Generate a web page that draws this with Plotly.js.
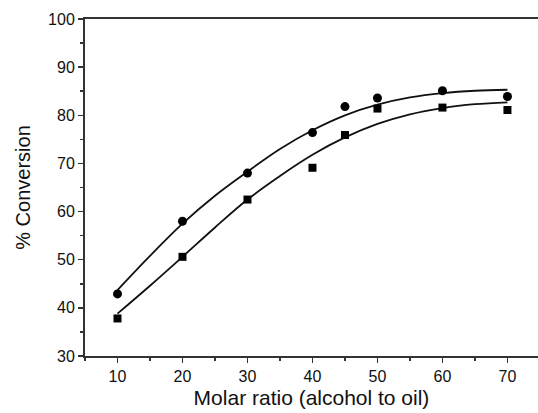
<!DOCTYPE html>
<html>
<head>
<meta charset="utf-8">
<script src="https://cdn.plot.ly/plotly-3.0.1.min.js"></script>
<style>html,body{margin:0;padding:0;background:#fff;}#chart{width:538px;height:413px;}</style>
</head>
<body>
<div id="chart"></div>
<script>
var molarRatio = [10, 20, 30, 40, 45, 50, 60, 70];
var circleConv = [42.9, 58.0, 68.0, 76.4, 81.8, 83.6, 85.1, 83.9];
var squareConv = [37.8, 50.6, 62.5, 69.1, 75.9, 81.4, 81.6, 81.1];
var fitX = [10, 15, 20, 25, 30, 35, 40, 45, 50, 55, 60, 65, 70];
var fitCircle = [43.7, 50.8, 57.5, 63.3, 68.3, 73.0, 76.9, 80.0, 82.2, 83.7, 84.6, 85.1, 85.3];
var fitSquare = [38.8, 44.6, 50.6, 56.7, 62.5, 67.4, 71.8, 75.4, 78.2, 80.2, 81.5, 82.3, 82.7];

var fontFam = 'Liberation Sans, Arial, sans-serif';
var traces = [
  {x: fitX, y: fitCircle, mode: 'lines', line: {color: '#111', width: 1.8, shape: 'spline'}, hoverinfo: 'skip'},
  {x: fitX, y: fitSquare, mode: 'lines', line: {color: '#111', width: 1.8, shape: 'spline'}, hoverinfo: 'skip'},
  {x: molarRatio, y: circleConv, mode: 'markers', marker: {symbol: 'circle', size: 9, color: '#000'}},
  {x: molarRatio, y: squareConv, mode: 'markers', marker: {symbol: 'square', size: 8, color: '#000'}}
];
var layout = {
  width: 538, height: 413,
  margin: {l: 85, r: 0, t: 19, b: 57},
  showlegend: false,
  paper_bgcolor: '#fff', plot_bgcolor: '#fff',
  font: {family: fontFam, color: '#111', size: 16},
  xaxis: {
    range: [5, 74.7], tickvals: [10, 20, 30, 40, 50, 60, 70],
    showgrid: false, zeroline: false, showline: true, linecolor: '#333', linewidth: 2,
    mirror: true, ticks: 'outside', ticklen: 5, tickwidth: 1.5, tickcolor: '#333',
    minor: {tickvals: [5, 15, 25, 35, 45, 55, 65], ticks: 'outside', ticklen: 3, tickcolor: '#333', tickwidth: 1.5},
    tickfont: {size: 16, family: fontFam, color: '#111'},
    title: {text: 'Molar ratio (alcohol to oil)', font: {size: 21, family: fontFam, color: '#111'}, standoff: 6}
  },
  yaxis: {
    range: [30, 100], tickvals: [30, 40, 50, 60, 70, 80, 90, 100],
    showgrid: false, zeroline: false, showline: true, linecolor: '#333', linewidth: 2,
    ticks: 'outside', ticklen: 5, tickwidth: 1.5, tickcolor: '#333',
    minor: {tickvals: [35, 45, 55, 65, 75, 85, 95], ticks: 'outside', ticklen: 3, tickcolor: '#333', tickwidth: 1.5},
    tickfont: {size: 16, family: fontFam, color: '#111'},
    title: {text: '% Conversion', font: {size: 20, family: fontFam, color: '#111'}, standoff: 12}
  }
};
Plotly.newPlot('chart', traces, layout, {staticPlot: true, displayModeBar: false});
</script>
</body>
</html>
